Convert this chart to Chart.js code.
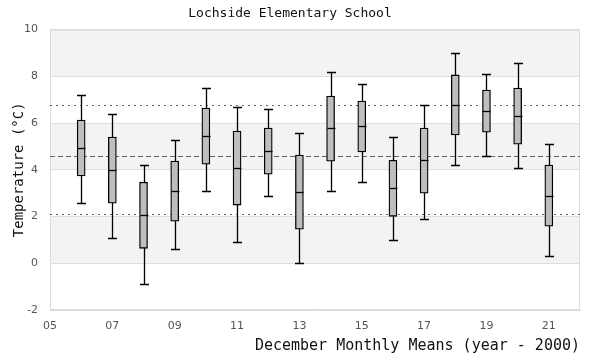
<!DOCTYPE html>
<html>
<head>
<meta charset="utf-8">
<script src="https://cdn.jsdelivr.net/npm/chart.js@4/dist/chart.umd.min.js"></script>
<style>
  html, body { margin: 0; padding: 0; background: #fff; }
  #wrap { width: 600px; height: 360px; }
</style>
</head>
<body>
<div id="wrap"><canvas id="box"></canvas></div>
<script>
// December monthly means, year - 2000
var years       = [6, 7, 8, 9, 10, 11, 12, 13, 14, 15, 16, 17, 18, 19, 20, 21];
var whiskerLow  = [2.57, 1.07, -0.9, 0.6, 3.09, 0.9, 2.87, 0.0, 3.09, 3.47, 0.99, 1.89, 4.2, 4.59, 4.07, 0.3];
var q1          = [3.74, 2.57, 0.64, 1.8, 4.24, 2.49, 3.81, 1.46, 4.37, 4.76, 2.01, 3.0, 5.49, 5.61, 5.1, 1.59];
var medians     = [4.94, 4.0, 2.07, 3.09, 5.44, 4.08, 4.8, 3.04, 5.79, 5.87, 3.21, 4.41, 6.77, 6.51, 6.3, 2.87];
var q3          = [6.13, 5.4, 3.47, 4.37, 6.64, 5.66, 5.79, 4.63, 7.16, 6.94, 4.41, 5.79, 8.06, 7.41, 7.5, 4.2];
var whiskerHigh = [7.18, 6.39, 4.2, 5.27, 7.5, 6.69, 6.6, 5.57, 8.19, 7.67, 5.4, 6.77, 9.0, 8.1, 8.57, 5.1];
var xTicks = [5, 7, 9, 11, 13, 15, 17, 19, 21];
// overall upper / mean / lower reference lines
var refLines = [6.77, 4.59, 2.1];
var refDash  = [[2, 4], [5, 3], [2, 4]];

var boxExtras = {
  id: 'boxExtras',
  beforeDraw: function(chart) {
    var ctx = chart.ctx, a = chart.chartArea, ys = chart.scales.y;
    ctx.save();
    for (var b = -2; b < 10; b += 2) {
      if ((b / 2) % 2 === 0) {
        var top = ys.getPixelForValue(b + 2), bot = ys.getPixelForValue(b);
        ctx.fillStyle = '#f3f3f3';
        ctx.fillRect(a.left, top, a.right - a.left, bot - top);
      }
    }
    ctx.restore();
  },
  beforeDatasetsDraw: function(chart) {
    var ctx = chart.ctx, a = chart.chartArea, xs = chart.scales.x, ys = chart.scales.y;
    ctx.save();
    ctx.strokeStyle = '#dcdcdc';
    ctx.lineWidth = 1;
    ctx.strokeRect(a.left + 0.5, a.top + 0.5, a.right - a.left - 1, a.bottom - a.top - 1);

    ctx.strokeStyle = '#666';
    for (var r = 0; r < refLines.length; r++) {
      var py = Math.round(ys.getPixelForValue(refLines[r])) + 0.5;
      ctx.setLineDash(refDash[r]);
      ctx.beginPath();
      ctx.moveTo(a.left, py);
      ctx.lineTo(a.right, py);
      ctx.stroke();
    }
    ctx.setLineDash([]);

    ctx.strokeStyle = '#000';
    ctx.lineWidth = 1.3;
    for (var i = 0; i < years.length; i++) {
      var px = Math.round(xs.getPixelForValue(years[i])) + 0.5;
      var hi = Math.round(ys.getPixelForValue(whiskerHigh[i])) + 0.5;
      var lo = Math.round(ys.getPixelForValue(whiskerLow[i])) + 0.5;
      ctx.beginPath();
      ctx.moveTo(px, hi); ctx.lineTo(px, lo);
      ctx.moveTo(px - 4.5, hi); ctx.lineTo(px + 4.5, hi);
      ctx.moveTo(px - 4.5, lo); ctx.lineTo(px + 4.5, lo);
      ctx.stroke();
    }
    ctx.restore();
  },
  afterDatasetsDraw: function(chart) {
    var ctx = chart.ctx, xs = chart.scales.x, ys = chart.scales.y;
    ctx.save();
    ctx.strokeStyle = '#000';
    ctx.lineWidth = 1.3;
    for (var i = 0; i < years.length; i++) {
      var px = Math.round(xs.getPixelForValue(years[i])) + 0.5;
      var my = Math.round(ys.getPixelForValue(medians[i])) + 0.5;
      ctx.beginPath();
      ctx.moveTo(px - 4, my); ctx.lineTo(px + 4, my);
      ctx.stroke();
    }
    ctx.restore();
  }
};

var ctx1 = document.getElementById('box');
var myChart = new Chart(ctx1, {
  type: 'bar',
  data: {
    datasets: [{
      data: years.map(function(y, i) { return { x: y, y: [q1[i], q3[i]] }; }),
      backgroundColor: '#bebebe',
      borderColor: '#000',
      borderWidth: 1.3,
      borderSkipped: false,
      barThickness: 8
    }]
  },
  options: {
    responsive: true,
    maintainAspectRatio: false,
    animation: false,
    layout: { padding: { left: 0, right: 20, top: 0, bottom: 0 } },
    plugins: {
      legend: { display: false },
      tooltip: { enabled: false },
      title: {
        display: true,
        text: 'Lochside Elementary School',
        color: '#111',
        font: { family: 'DejaVu Sans Mono', size: 13, weight: 'normal' },
        padding: { top: 6, bottom: 8 }
      }
    },
    scales: {
      x: {
        type: 'linear',
        min: 5,
        max: 22,
        offset: false,
        grid: { display: false, offset: false },
        border: { color: '#dcdcdc' },
        afterBuildTicks: function(s) {
          s.ticks = xTicks.map(function(v) { return { value: v }; });
        },
        ticks: {
          color: '#555',
          font: { family: 'DejaVu Sans', size: 11 },
          padding: 2,
          maxRotation: 0,
          autoSkip: false,
          callback: function(v) { return (v < 10 ? '0' : '') + v; }
        },
        title: {
          display: true,
          align: 'end',
          text: 'December Monthly Means (year - 2000)',
          color: '#111',
          font: { family: 'DejaVu Sans Mono', size: 15 },
          padding: { top: 0, bottom: 5 }
        },
        afterFit: function(s) { s.height = 50; }
      },
      y: {
        min: -2,
        max: 10,
        grid: { color: '#dedede', drawTicks: false },
        border: { color: '#dcdcdc' },
        ticks: {
          stepSize: 2,
          color: '#555',
          font: { family: 'DejaVu Sans', size: 11 },
          padding: 12
        },
        title: {
          display: true,
          text: 'Temperature (°C)',
          color: '#111',
          font: { family: 'DejaVu Sans Mono', size: 14 },
          padding: { top: 11, bottom: 0 }
        },
        afterFit: function(s) { s.width = 50; }
      }
    }
  },
  plugins: [boxExtras]
});
</script>
</body>
</html>
